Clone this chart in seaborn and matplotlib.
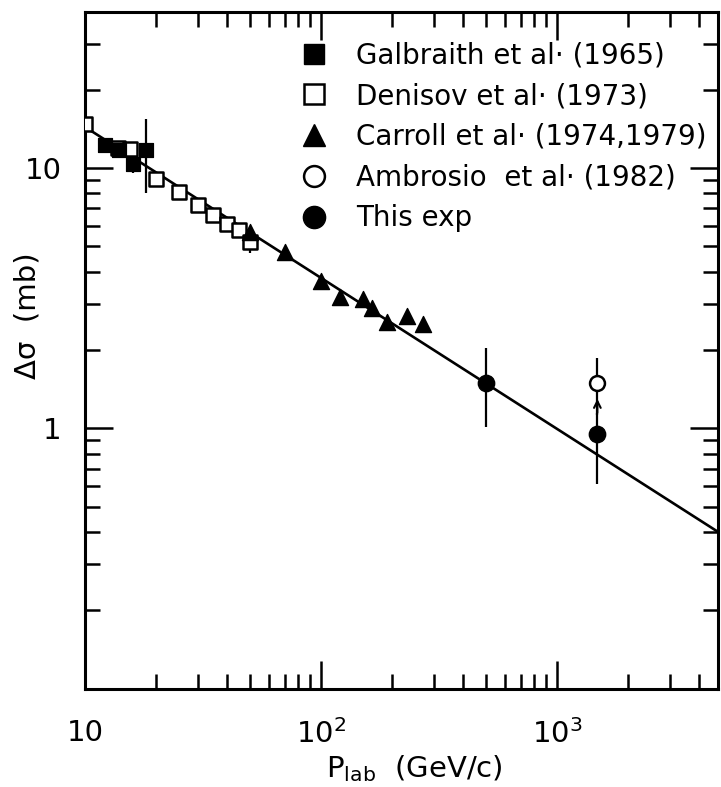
import matplotlib
matplotlib.use("Agg")
import matplotlib.pyplot as plt
import seaborn as sns
import pandas as pd
from matplotlib.lines import Line2D
from matplotlib.ticker import FixedLocator, FixedFormatter, NullFormatter

# Galbraith et al. (1965)
galbraith_p = [12.1, 14.0, 15.9, 18.2]
galbraith_ds = [12.3, 11.7, 10.4, 11.7]
galbraith_err = [0.6, 0.5, 0.8, 3.7]

# Denisov et al. (1973)
denisov_p = [10.0, 13.8, 15.5, 20.0, 25.0, 30.0, 35.0, 40.0, 45.0, 50.0]
denisov_ds = [14.8, 12.0, 11.8, 9.1, 8.1, 7.2, 6.6, 6.1, 5.8, 5.2]
denisov_err = [0.4, 0.4, 0.4, 0.3, 0.2, 0.2, 0.2, 0.2, 0.2, 0.5]

# Carroll et al. (1974, 1979)
carroll_p = [50, 70, 100, 120, 150, 165, 190, 232, 270]
carroll_ds = [5.66, 4.78, 3.67, 3.19, 3.15, 2.90, 2.57, 2.70, 2.52]

# Ambrosio et al. (1982)
ambrosio_p = [1480]
ambrosio_ds = [1.50]
ambrosio_err = [0.37]

# This exp
this_p = [500, 1480]
this_ds = [1.50, 0.95]
this_err_lo = [0.49, 0.34]
this_err_hi = [0.53, 0.20]

# fitted line (straight on log-log)
fit_p = [10, 4800]
fit_ds = [14.4, 0.40]

x_major = [10, 100, 1000]
x_major_labels = ["10", r"$\mathregular{10^2}$", r"$\mathregular{10^3}$"]
y_major = [0.1, 1, 10]
y_major_labels = ["", "1", "10"]

sns.set_style("ticks")
plt.rcParams['font.family'] = ['DejaVu Sans']
plt.rcParams['text.color'] = 'black'
plt.rcParams['axes.labelcolor'] = 'black'
plt.rcParams['xtick.color'] = 'black'
plt.rcParams['ytick.color'] = 'black'

fig = plt.figure(figsize=(7.21, 7.87), dpi=100)
ax = fig.add_axes([85 / 721, (787 - 688.5) / 787, 633 / 721, 677 / 787])

sns.lineplot(x=fit_p, y=fit_ds, ax=ax, color="black", linewidth=1.9, zorder=2)

ax.errorbar(galbraith_p, galbraith_ds, yerr=galbraith_err, fmt="none", ecolor="black",
            elinewidth=1.6, zorder=3)
ax.errorbar(denisov_p, denisov_ds, yerr=denisov_err, fmt="none", ecolor="black",
            elinewidth=1.6, zorder=3)
ax.errorbar(ambrosio_p, ambrosio_ds, yerr=ambrosio_err, fmt="none", ecolor="black",
            elinewidth=1.6, zorder=3)
ax.errorbar(this_p, this_ds, yerr=[this_err_lo, this_err_hi], fmt="none", ecolor="black",
            elinewidth=1.6, zorder=3)

ms = 115
sns.scatterplot(x=denisov_p, y=denisov_ds, ax=ax, marker="s", s=ms, facecolor="white",
                edgecolor="black", linewidth=1.8, zorder=4)
sns.scatterplot(x=galbraith_p, y=galbraith_ds, ax=ax, marker="s", s=ms, color="black",
                edgecolor="black", zorder=5)
sns.scatterplot(x=carroll_p, y=carroll_ds, ax=ax, marker="^", s=ms + 20, color="black",
                edgecolor="black", zorder=5)
sns.scatterplot(x=ambrosio_p, y=ambrosio_ds, ax=ax, marker="o", s=ms, facecolor="white",
                edgecolor="black", linewidth=1.8, zorder=5)
sns.scatterplot(x=this_p, y=this_ds, ax=ax, marker="o", s=ms + 25, color="black",
                edgecolor="black", zorder=5)

ax.annotate("", xy=(ambrosio_p[0], 1.33), xytext=(this_p[1], 1.12),
            arrowprops=dict(arrowstyle="->", color="black", lw=1.5, mutation_scale=12))

ax.set_xscale("log")
ax.set_yscale("log")
ax.set_xlim(10, 4800)
ax.set_ylim(0.1, 40)

ax.xaxis.set_major_locator(FixedLocator(x_major))
ax.xaxis.set_major_formatter(FixedFormatter(x_major_labels))
ax.xaxis.set_minor_locator(FixedLocator([m * d for d in (10, 100, 1000) for m in range(2, 10)]))
ax.xaxis.set_minor_formatter(NullFormatter())
ax.yaxis.set_major_locator(FixedLocator(y_major))
ax.yaxis.set_major_formatter(FixedFormatter(y_major_labels))
ax.yaxis.set_minor_locator(FixedLocator([m * d for d in (0.1, 1, 10) for m in range(2, 10)]))
ax.yaxis.set_minor_formatter(NullFormatter())

ax.tick_params(which="both", direction="in", top=True, right=True, width=1.8, color="black")
ax.tick_params(which="major", length=20)
ax.tick_params(which="minor", length=11)
ax.tick_params(axis="x", which="major", labelsize=21, pad=22)
ax.tick_params(axis="y", which="major", labelsize=21, pad=17)

for sp in ax.spines.values():
    sp.set_linewidth(2.2)
    sp.set_color("black")

ax.set_xlabel(r"$\mathregular{P_{lab}}$  (GeV/c)", fontsize=21)
ax.xaxis.set_label_coords(0.52, -0.095)
ax.set_ylabel("Δσ  (mb)", fontsize=21)
ax.yaxis.set_label_coords(-0.068, 0.55)

handles = [
    Line2D([], [], linestyle="none", marker="s", markersize=15, color="black"),
    Line2D([], [], linestyle="none", marker="s", markersize=15, markerfacecolor="white",
           markeredgecolor="black", markeredgewidth=1.8),
    Line2D([], [], linestyle="none", marker="^", markersize=16, color="black"),
    Line2D([], [], linestyle="none", marker="o", markersize=15, markerfacecolor="white",
           markeredgecolor="black", markeredgewidth=1.8),
    Line2D([], [], linestyle="none", marker="o", markersize=16, color="black"),
]
labels = ["Galbraith et al· (1965)", "Denisov et al· (1973)", "Carroll et al· (1974,1979)",
          "Ambrosio  et al· (1982)", "This exp"]
ax.legend(handles, labels, loc="upper left", bbox_to_anchor=(0.343, 0.956), frameon=False,
          fontsize=20, handlelength=0.85, handletextpad=1.1, labelspacing=0.46,
          borderaxespad=0, borderpad=0)

fig.savefig("out.png", dpi=100)
